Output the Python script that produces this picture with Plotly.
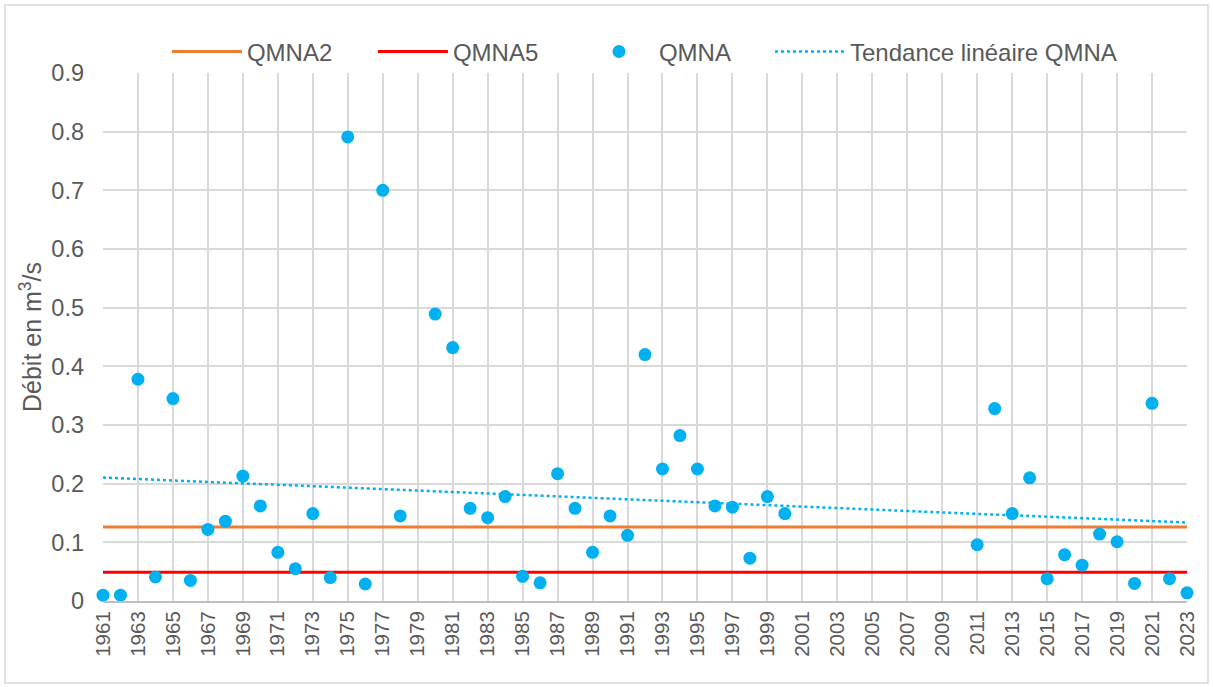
import numpy as np
import plotly.graph_objects as go

years = [1961, 1962, 1963, 1964, 1965, 1966, 1967, 1968, 1969, 1970,
         1971, 1972, 1973, 1974, 1975, 1976, 1977, 1978, 1980, 1981,
         1982, 1983, 1984, 1985, 1986, 1987, 1988, 1989, 1990, 1991,
         1992, 1993, 1994, 1995, 1996, 1997, 1998, 1999, 2000,
         2011, 2012, 2013, 2014, 2015, 2016, 2017, 2018, 2019, 2020,
         2021, 2022, 2023]
qmna = [0.010, 0.010, 0.378, 0.041, 0.345, 0.035, 0.122, 0.136, 0.213, 0.162,
        0.083, 0.055, 0.149, 0.040, 0.791, 0.029, 0.700, 0.145, 0.489, 0.432,
        0.158, 0.142, 0.178, 0.042, 0.031, 0.217, 0.158, 0.083, 0.145, 0.112,
        0.420, 0.225, 0.282, 0.225, 0.162, 0.160, 0.073, 0.178, 0.149,
        0.096, 0.328, 0.149, 0.210, 0.038, 0.079, 0.061, 0.114, 0.101, 0.030,
        0.337, 0.038, 0.014]
qmna2 = 0.126
qmna5 = 0.049
year_start, year_end = 1961, 2023

font = "Liberation Sans, Arial, sans-serif"
grey = "#595959"

slope, intercept = np.polyfit(years, qmna, 1)
trend_x = [year_start, year_end]
trend_y = [slope * x + intercept for x in trend_x]

fig = go.Figure()
fig.add_trace(go.Scatter(x=[year_start, year_end], y=[qmna2, qmna2], mode="lines",
                         name="QMNA2", line=dict(color="#ed7d31", width=3), cliponaxis=False))
fig.add_trace(go.Scatter(x=[year_start, year_end], y=[qmna5, qmna5], mode="lines",
                         name="QMNA5", line=dict(color="#ff0000", width=3), cliponaxis=False))
fig.add_trace(go.Scatter(x=years, y=qmna, mode="markers", name="QMNA",
                         marker=dict(color="#00b0f0", size=13), cliponaxis=False))
fig.add_trace(go.Scatter(x=trend_x, y=trend_y, mode="lines", name="Tendance linéaire QMNA",
                         line=dict(color="#00b0f0", width=2.5, dash="dot"), cliponaxis=False,
                         legend="legend2"))

leg_common = dict(orientation="h", xanchor="left", y=1.04, yanchor="middle",
                  font=dict(size=24, color=grey), itemwidth=70,
                  bgcolor="rgba(0,0,0,0)")

fig.update_layout(
    width=1213, height=687,
    margin=dict(l=103, r=26, t=73, b=86, autoexpand=False),
    paper_bgcolor="white", plot_bgcolor="white",
    font=dict(family=font, size=20, color=grey),
    showlegend=True,
    legend=dict(x=0.059, entrywidth=121, traceorder="normal", **leg_common),
    legend2=dict(x=0.6153, **leg_common),
    shapes=[dict(type="rect", xref="paper", yref="paper",
                 x0=-0.0904, x1=1.0194, y0=-0.1553, y1=1.1288,
                 line=dict(color="#d9d9d9", width=1.5), layer="below")],
)
fig.update_xaxes(range=[year_start, year_end], tick0=1961, dtick=2, tickangle=-90,
                 showgrid=True, gridcolor="#d9d9d9", gridwidth=2,
                 showline=True, linecolor="#bfbfbf", linewidth=2,
                 zeroline=False, ticks="", tickfont=dict(size=20.5, color=grey),
                 automargin=False)
fig.update_yaxes(range=[0, 0.9], dtick=0.1, showgrid=True, gridcolor="#d9d9d9", gridwidth=2,
                 zeroline=False, showline=False, ticks="", tickfont=dict(size=23.5, color=grey),
                 ticklabelstandoff=18,
                 title=dict(text="Débit en m<sup>3</sup>/s", font=dict(size=25, color=grey), standoff=2),
                 automargin=False)

fig.write_html("out.html", config={"displayModeBar": False},
               post_script="document.body.style.margin='0';")
